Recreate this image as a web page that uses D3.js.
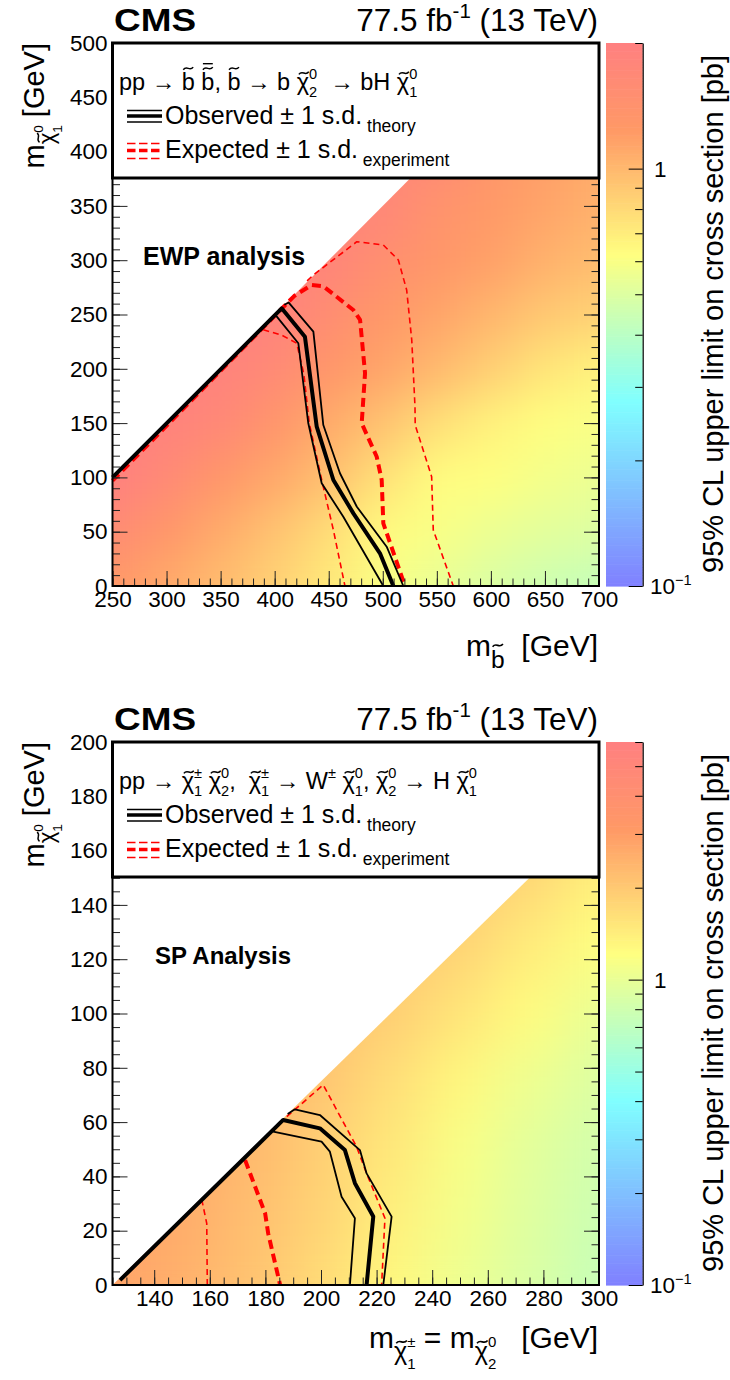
<!DOCTYPE html>
<html>
<head>
<meta charset="utf-8">
<title>CMS 95% CL upper limits</title>
<script src="https://cdn.jsdelivr.net/npm/d3@7"></script>
<style>
  body { margin: 0; background: #fff; }
  text { font-family: "Liberation Sans", Arial, Helvetica, sans-serif; fill: #000; white-space: pre; }
</style>
</head>
<body>
<div id="chart"></div>
<script>
// ---------- top: sbottom pairs, b~ -> b chi2, chi2 -> H chi1 (EWP analysis)
const ewpMassX = [250, 300, 350, 400, 450, 500, 550, 600, 650, 700];
const ewpMassY = [0, 50, 100, 150, 200, 250, 300, 350, 400];
// 95% CL limit [pb], one row per ewpMassY value
const ewpLimit = [
  [1.27, 1.10, 0.97, 0.84, 0.72, 0.60, 0.54, 0.49, 0.45, 0.43],
  [1.60, 1.30, 1.10, 0.93, 0.78, 0.64, 0.60, 0.55, 0.52, 0.50],
  [2.00, 1.65, 1.30, 1.12, 0.95, 0.76, 0.63, 0.62, 0.58, 0.55],
  [2.00, 1.90, 1.70, 1.35, 1.10, 0.93, 0.77, 0.68, 0.62, 0.60],
  [2.00, 2.00, 1.90, 1.65, 1.30, 1.15, 1.00, 0.86, 0.74, 0.68],
  [2.00, 2.00, 2.00, 1.90, 1.55, 1.28, 1.15, 1.02, 0.90, 0.84],
  [1.90, 1.90, 1.90, 1.90, 1.80, 1.50, 1.30, 1.18, 1.05, 0.97],
  [1.80, 1.80, 1.80, 1.80, 1.80, 1.75, 1.40, 1.25, 1.15, 1.05],
  [1.70, 1.70, 1.70, 1.70, 1.70, 1.70, 1.70, 1.35, 1.20, 1.10]
];
const ewpRegion = [[250, 0], [700, 0], [700, 500], [650, 500], [250, 100]];
const ewpXTicks = [250, 300, 350, 400, 450, 500, 550, 600, 650, 700];
const ewpYTicks = [0, 50, 100, 150, 200, 250, 300, 350, 400, 450, 500];
const ewpObs = [[250, 100], [406.5, 255.7], [428, 229.6], [438.9, 146.7], [454.3, 97.6], [472.8, 66.9], [497.4, 30.1], [509.8, 0]];
const ewpObsUp = [[409, 259], [413, 261], [435.8, 234.2], [445, 148.2], [460.4, 103.8], [476, 73], [503.6, 36.2], [519, 0]];
const ewpObsDown = [[400, 250], [402, 248], [421.9, 223.5], [431.1, 149.8], [443.5, 94.6], [463.5, 63.8], [500.5, 0]];
const ewpExp = [[250, 97], [418, 267], [434.3, 277.2], [445, 276], [472.8, 254.1], [479, 245], [483.6, 195.9], [480.5, 149.8], [494.4, 119], [499, 97.6], [500.5, 57.7], [520.5, 0]];
const ewpExpUp = [[430, 281], [435.8, 286.4], [476, 317], [500.5, 314], [514.4, 300.2], [522.1, 272.6], [526.8, 226.5], [529.8, 165.1], [530, 148.2], [545.2, 100.6], [546.7, 51.6], [565.2, 0]];
const ewpExpDown = [[389.5, 236], [406.5, 231], [420.4, 223.5], [427, 195], [432, 150], [443.5, 97.6], [454.3, 51.6], [465, 0]];

// ---------- bottom: chargino-neutralino, W chi1 + H chi1 (SP analysis)
const spMassX = [125, 150, 175, 200, 225, 250, 275, 300];
const spMassY = [0, 25, 50, 75, 100, 125, 150, 175];
const spLimit = [
  [2.80, 2.50, 2.10, 1.70, 1.30, 1.05, 0.88, 0.75],
  [2.90, 2.60, 2.20, 1.80, 1.40, 1.10, 0.92, 0.78],
  [3.00, 2.70, 2.30, 1.90, 1.50, 1.15, 0.95, 0.82],
  [3.00, 2.80, 2.50, 2.05, 1.65, 1.30, 1.05, 0.90],
  [3.00, 2.90, 2.60, 2.20, 1.90, 1.55, 1.25, 1.00],
  [3.00, 2.90, 2.70, 2.40, 2.10, 1.80, 1.45, 1.20],
  [3.00, 2.90, 2.80, 2.50, 2.30, 2.05, 1.75, 1.40],
  [3.00, 2.90, 2.80, 2.60, 2.40, 2.20, 1.95, 1.60]
];
const spRegion = [[125, 0], [300, 0], [300, 175]];
const spXTicks = [140, 160, 180, 200, 220, 240, 260, 280, 300];
const spYTicks = [0, 20, 40, 60, 80, 100, 120, 140, 160, 180, 200];
const spObs = [[127.7, 1.8], [186.4, 60.8], [199.6, 57.7], [208.6, 49.7], [212.2, 37.5], [218.8, 25.2], [216.4, 0]];
const spObsUp = [[188, 63], [190.6, 64.7], [199.6, 62.6], [214, 49.7], [216.4, 41.1], [225.4, 25.2], [222.4, 0]];
const spObsDown = [[182.8, 56.5], [200.2, 52.8], [203.2, 49.1], [207.4, 32.5], [212.2, 24.6], [210.4, 0]];
const spExp = [[172.7, 46], [179.9, 26.4], [181, 19], [185.3, 0]];
const spExpUp = [[187.7, 62], [200.8, 73.7], [212.8, 50.9], [216.4, 41.1], [223, 24.6], [221.8, 0]];
const spExpDown = [[157.1, 31.5], [158.9, 22.7], [159.1, 0]];

// colour axis
const zMajor = [0.1, 1];
const ewpZMinor = [0.2, 0.3, 0.4, 0.5, 0.6, 0.7, 0.8, 0.9, 2];
const spZMinor = [0.2, 0.3, 0.4, 0.5, 0.6, 0.7, 0.8, 0.9, 2, 3, 4, 5, 6];
const paletteStops = [0, 0.34, 0.61, 0.84, 1];
const paletteColors = ["#8080ff", "#80ffff", "#ffff80", "#ff9966", "#ff8080"];

const W = 730, H = 1380;
const frame = {left: 112.5, right: 599, top: 43, bottom: 586};
const cbar = {left: 606, right: 642.7};
const legendBottom = 178;

const svg = d3.select("#chart").append("svg")
    .attr("width", W)
    .attr("height", H);

// text with sub/superscripts and drawn accents
// segment: [string, size factor, baseline offset (em), back over previous, accent]
// accent: "t" tilde over small letter, "T" tilde over tall letter, "TB" tilde + bar
function rich(sel, segs, size) {
  let cur = 0, prev = null, idx = 0;
  const marks = [];
  segs.forEach(function (s) {
    const k = s[1] || 1, off = s[2] || 0;
    const sp = sel.append("tspan")
        .attr("font-size", size * k)
        .attr("dy", (off - cur) * size)
        .text(s[0]);
    if (s[3] && prev) sp.attr("dx", -prev.node().getComputedTextLength());
    if (s[4]) marks.push([idx, s[4], size * k]);
    idx += s[0].length;
    cur = off;
    prev = sp;
  });
  const node = sel.node(), parent = d3.select(node.parentNode);
  marks.forEach(function (m) {
    const a = node.getStartPositionOfChar(m[0]), b = node.getEndPositionOfChar(m[0]);
    const fs = m[2], small = m[1] === "t";
    const cx = (a.x + b.x) / 2 + (small ? 0.04 * fs : 0);
    const ty = a.y - (small ? 0.72 : 0.92) * fs;
    const w = 0.42 * fs, h = 0.055 * fs, x0 = cx - w / 2;
    parent.append("path")
      .attr("d", "M" + x0 + "," + (ty + h) + "C" + (x0 + w * 0.35) + "," + (ty - h * 2.6) + " " +
        (x0 + w * 0.65) + "," + (ty + h * 2.6) + " " + (x0 + w) + "," + (ty - h))
      .attr("fill", "none").attr("stroke", "#000").attr("stroke-width", 0.065 * fs);
    if (m[1] === "TB") {
      parent.append("line").attr("x1", cx - w / 2).attr("x2", cx + w / 2)
        .attr("y1", ty - 0.2 * fs).attr("y2", ty - 0.2 * fs)
        .attr("stroke", "#000").attr("stroke-width", 0.06 * fs);
    }
  });
  return sel;
}

const chi = "\u03c7";

function drawPanel(p, oy) {
  const g = svg.append("g").attr("transform", "translate(0," + oy + ")");
  const x = d3.scaleLinear().domain(p.xDomain).range([frame.left, frame.right]);
  const y = d3.scaleLinear().domain(p.yDomain).range([frame.bottom, frame.top]);
  const z = d3.scaleLog().domain(p.zDomain).range([0, 1]);
  const pal = d3.scaleLinear().domain(paletteStops).range(paletteColors).clamp(true);
  const defs = g.append("defs");

  // heat map: cells, smoothed, clipped to the kinematic region
  const hx = p.stepX / 2, hy = p.stepY / 2;
  defs.append("clipPath").attr("id", p.id + "clip")
    .append("path")
    .attr("d", d3.line()(p.region.map(d => [x(d[0]), y(d[1])])) + "Z");
  const x0 = x(p.massX[0] - hx), x1 = x(p.massX[p.massX.length - 1] + hx);
  const y0 = y(p.massY[p.massY.length - 1] + hy), y1 = y(p.massY[0] - hy);
  const filt = defs.append("filter").attr("id", p.id + "blur")
      .attr("filterUnits", "userSpaceOnUse")
      .attr("x", x0).attr("y", y0).attr("width", x1 - x0).attr("height", y1 - y0)
      .attr("color-interpolation-filters", "sRGB");
  filt.append("feGaussianBlur").attr("stdDeviation", p.blur);
  filt.append("feComponentTransfer").append("feFuncA").attr("type", "table").attr("tableValues", "1 1");

  const cells = [];
  p.limit.forEach((row, i) => row.forEach((v, j) => cells.push({mx: p.massX[j], my: p.massY[i], v: v})));
  g.append("g").attr("clip-path", "url(#" + p.id + "clip)")
    .append("g").attr("filter", "url(#" + p.id + "blur)")
    .selectAll("rect").data(cells).join("rect")
    .attr("x", d => x(d.mx - hx))
    .attr("y", d => y(d.my + hy))
    .attr("width", d => x(d.mx + hx) - x(d.mx - hx) + 0.5)
    .attr("height", d => y(d.my - hy) - y(d.my + hy) + 0.5)
    .attr("fill", d => pal(z(d.v)));

  // contours
  const line = d3.line().x(d => x(d[0])).y(d => y(d[1]));
  const curves = [
    [p.expDown, "#ff0000", 1.6, "6,4"],
    [p.expUp, "#ff0000", 1.6, "6,4"],
    [p.exp, "#ff0000", 4, "9,5"],
    [p.obsDown, "#000", 1.8, null],
    [p.obsUp, "#000", 1.8, null],
    [p.obs, "#000", 4, null]
  ];
  curves.forEach(c => {
    g.append("path").attr("d", line(c[0]))
      .attr("fill", "none").attr("stroke", c[1]).attr("stroke-width", c[2])
      .attr("stroke-dasharray", c[3]).attr("stroke-linejoin", "round");
  });

  // axes (ticks inside frame)
  const axes = g.append("g");
  function styleAxis(a) {
    a.attr("font-size", 22.5).attr("font-family", null);
    a.select(".domain").remove();
    a.selectAll(".tick line").attr("stroke", "#222");
  }
  axes.append("g").attr("transform", "translate(0," + frame.bottom + ")")
    .call(d3.axisBottom(x).tickValues(p.xTicks).tickSize(-15).tickPadding(5).tickFormat(d3.format("d")))
    .call(styleAxis);
  axes.append("g").attr("transform", "translate(0," + frame.bottom + ")")
    .call(d3.axisBottom(x).tickValues(p.xMinor).tickSize(-7.5).tickFormat(""))
    .call(styleAxis);
  axes.append("g").attr("transform", "translate(" + frame.left + ",0)")
    .call(d3.axisLeft(y).tickValues(p.yTicks).tickSize(-15).tickPadding(5).tickFormat(d3.format("d")))
    .call(styleAxis);
  axes.append("g").attr("transform", "translate(" + frame.left + ",0)")
    .call(d3.axisLeft(y).tickValues(p.yMinor).tickSize(-7.5).tickFormat(""))
    .call(styleAxis);
  axes.append("g").attr("transform", "translate(" + frame.right + ",0)")
    .call(d3.axisRight(y).tickValues(p.yTicks).tickSize(-15).tickFormat(""))
    .call(styleAxis);
  axes.append("g").attr("transform", "translate(" + frame.right + ",0)")
    .call(d3.axisRight(y).tickValues(p.yMinor).tickSize(-7.5).tickFormat(""))
    .call(styleAxis);

  g.append("rect")
    .attr("x", frame.left).attr("y", frame.top)
    .attr("width", frame.right - frame.left).attr("height", frame.bottom - frame.top)
    .attr("fill", "none").attr("stroke", "#000").attr("stroke-width", 2);

  // legend
  g.append("rect")
    .attr("x", frame.left).attr("y", frame.top)
    .attr("width", frame.right - frame.left).attr("height", legendBottom - frame.top)
    .attr("fill", "#fff").attr("stroke", "#000").attr("stroke-width", 3);
  rich(g.append("text").attr("x", 119).attr("y", 90), p.process, 23.5);
  [[110.5, 1.6], [116, 3.5], [122, 1.6]].forEach(l => {
    g.append("line").attr("x1", 127).attr("x2", 162).attr("y1", l[0]).attr("y2", l[0])
      .attr("stroke", "#000").attr("stroke-width", l[1]);
  });
  [[143.5, 1.6], [150.5, 3.5], [158.5, 1.6]].forEach(l => {
    g.append("line").attr("x1", 127).attr("x2", 160).attr("y1", l[0]).attr("y2", l[0])
      .attr("stroke", "#ff0000").attr("stroke-width", l[1]).attr("stroke-dasharray", "8.5,3.5");
  });
  rich(g.append("text").attr("x", 165).attr("y", 124),
    [["Observed \u00b1 1 s.d."], [" theory", 0.7, 0.3]], 25);
  rich(g.append("text").attr("x", 165).attr("y", 158),
    [["Expected \u00b1 1 s.d."], [" experiment", 0.7, 0.3]], 25);

  g.append("text").attr("x", p.tagX).attr("y", p.tagY)
    .attr("font-size", p.tagSize).attr("font-weight", "bold").text(p.tag);

  // header
  g.append("text").attr("x", 114).attr("y", 31)
    .attr("font-size", 32).attr("font-weight", "bold")
    .attr("textLength", 82).attr("lengthAdjust", "spacingAndGlyphs").text("CMS");
  rich(g.append("text").attr("x", 598).attr("y", 31).attr("text-anchor", "end"),
    [["77.5 fb"], ["-1", 0.65, -0.4], [" (13 TeV)"]], 31.5);

  // axis titles
  rich(g.append("g").attr("transform", "translate(44," + frame.top + ") rotate(-90)")
      .append("text").attr("text-anchor", "end"),
    [["m"], [chi, 0.76, 0.35, 0, "t"], ["0", 0.47, -0.05], ["1", 0.47, 0.62, true], [" [GeV]"]], 29);
  rich(g.append("text").attr("text-anchor", "end").attr("x", 598).attr("y", p.xTitleY),
    p.xTitle, 30);

  // colour bar
  const zc = d3.scaleLog().domain(p.zDomain).range([frame.bottom, frame.top]);
  const steps = d3.range(0, 1, 1 / 200);
  g.append("g").selectAll("rect").data(steps).join("rect")
    .attr("x", cbar.left).attr("width", cbar.right - cbar.left)
    .attr("y", t => frame.bottom - (t + 1 / 200) * (frame.bottom - frame.top))
    .attr("height", (frame.bottom - frame.top) / 200 + 0.6)
    .attr("fill", t => pal(t + 0.5 / 200));
  const za = g.append("g").attr("transform", "translate(" + cbar.right + ",0)");
  za.call(d3.axisRight(zc).tickValues(zMajor).tickSize(-14).tickSizeOuter(0).tickFormat(""));
  za.call(g2 => g2.select(".domain").attr("stroke-width", 1.2));
  za.append("g").call(d3.axisRight(zc).tickValues(p.zMinor).tickSize(-7.5).tickFormat(""))
    .call(g2 => g2.select(".domain").remove());
  rich(g.append("text").attr("x", 654).attr("y", zc(1) + 8), [["1"]], 22.5);
  rich(g.append("text").attr("x", 650).attr("y", zc(0.1) + 8),
    [["10"], ["\u22121", 0.65, -0.4]], 22.5);
  g.append("text").attr("text-anchor", "end")
    .attr("transform", "translate(723,55) rotate(-90)")
    .attr("font-size", 29)
    .text("95% CL upper limit on cross section [pb]");
}

drawPanel({
  id: "ewp", xDomain: [250, 700], yDomain: [0, 500], zDomain: [0.1, 2.0],
  massX: ewpMassX, massY: ewpMassY, limit: ewpLimit, stepX: 50, stepY: 50, blur: 22,
  region: ewpRegion,
  xTicks: ewpXTicks, yTicks: ewpYTicks,
  xMinor: d3.range(250, 701, 10), yMinor: d3.range(0, 501, 10), zMinor: ewpZMinor,
  obs: ewpObs, obsUp: ewpObsUp, obsDown: ewpObsDown,
  exp: ewpExp, expUp: ewpExpUp, expDown: ewpExpDown,
  process: [["pp \u2192 "], ["b", 1, 0, 0, "T"], [" "], ["b", 1, 0, 0, "TB"], [", "], ["b", 1, 0, 0, "T"],
    [" \u2192 b "], [chi, 1, 0, 0, "t"], ["0", 0.62, -0.45], ["2", 0.62, 0.3, true],
    ["  \u2192 bH "], [chi, 1, 0, 0, "t"], ["0", 0.62, -0.45], ["1", 0.62, 0.3, true]],
  tag: "EWP analysis", tagX: 143, tagY: 265, tagSize: 25,
  xTitle: [["m"], ["b", 0.82, 0.4, 0, "T"], ["  [GeV]"]], xTitleY: 656
}, 0);

drawPanel({
  id: "sp", xDomain: [125, 300], yDomain: [0, 200], zDomain: [0.1, 6.0],
  massX: spMassX, massY: spMassY, limit: spLimit, stepX: 25, stepY: 25, blur: 26,
  region: spRegion,
  xTicks: spXTicks, yTicks: spYTicks,
  xMinor: d3.range(125, 301, 5), yMinor: d3.range(0, 201, 5), zMinor: spZMinor,
  obs: spObs, obsUp: spObsUp, obsDown: spObsDown,
  exp: spExp, expUp: spExpUp, expDown: spExpDown,
  process: [["pp \u2192 "], [chi, 1, 0, 0, "t"], ["\u00b1", 0.62, -0.45], ["1", 0.62, 0.3, true],
    [" "], [chi, 1, 0, 0, "t"], ["0", 0.62, -0.45], ["2", 0.62, 0.3, true],
    [",  "], [chi, 1, 0, 0, "t"], ["\u00b1", 0.62, -0.45], ["1", 0.62, 0.3, true],
    [" \u2192 W"], ["\u00b1", 0.62, -0.45],
    [" "], [chi, 1, 0, 0, "t"], ["0", 0.62, -0.45], ["1", 0.62, 0.3, true],
    [", "], [chi, 1, 0, 0, "t"], ["0", 0.62, -0.45], ["2", 0.62, 0.3, true],
    [" \u2192 H "], [chi, 1, 0, 0, "t"], ["0", 0.62, -0.45], ["1", 0.62, 0.3, true]],
  tag: "SP Analysis", tagX: 155, tagY: 265, tagSize: 24,
  xTitle: [["m"], [chi, 0.84, 0.4, 0, "t"], ["\u00b1", 0.5, -0.02], ["1", 0.5, 0.7, true],
    [" = m"], [chi, 0.84, 0.4, 0, "t"], ["0", 0.5, -0.02], ["2", 0.5, 0.7, true], ["   [GeV]"]],
  xTitleY: 649
}, 699);
</script>
</body>
</html>
